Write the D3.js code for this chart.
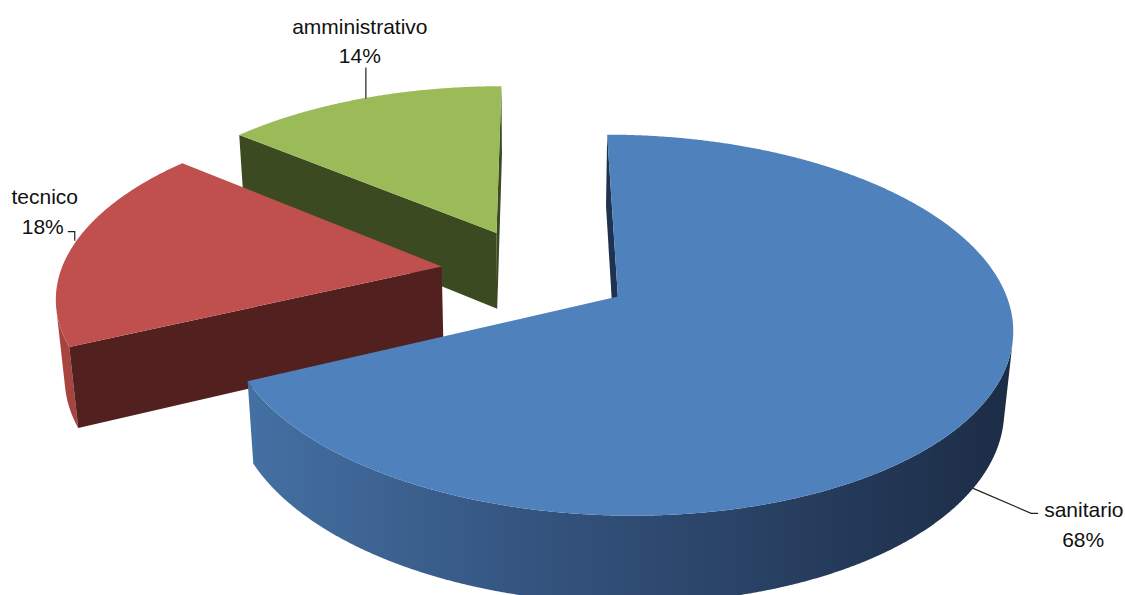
<!DOCTYPE html>
<html><head><meta charset="utf-8">
<script src="https://cdn.jsdelivr.net/npm/d3@7"></script>
<style>
body{margin:0;background:#fff}
svg{display:block}
text{font-family:"Liberation Sans",Arial,sans-serif;font-size:21px;fill:#111}
</style>
</head><body>
<svg id="chart" width="1125" height="595"></svg>
<script>
// ---- data ----
const categories = ["sanitario", "tecnico", "amministrativo"];
const values = [68, 18, 14];
const percentLabels = ["68%", "18%", "14%"];

// ---- styles ----
const topColors  = ["#4F81BD", "#C0504D", "#9BBB59"];
const sideColors = ["#33547f", "#a8443f", "#4a5c29"];
const wallColors = ["#1f3350", "#52211f", "#3c4a21"];

// ---- 3D projection setup ----
const P = {cx: 535.8, cy: 272.1, f: 2287, D: 6, elev: 28 * Math.PI / 180, R: 1, H: 0.235, explode: 0.25};
const sE = Math.sin(P.elev), cE = Math.cos(P.elev);
const cam = [0, -P.D * cE, P.D * sE];
function proj(X, Y, Z) {
  const zc = P.D + Y * cE - Z * sE;
  return [P.cx + P.f * X / zc, P.cy - P.f * (Y * sE + Z * cE) / zc];
}

const svg = d3.select("#chart");
const defs = svg.append("defs");
const line = d3.line();

const pie = d3.pie().sort(null).startAngle(0).endAngle(2 * Math.PI);
const arcs = pie(values).map((d, i) => {
  const mid = (d.startAngle + d.endAngle) / 2;
  return {i, a0: d.startAngle, a1: d.endAngle, mid,
          ox: P.explode * Math.sin(mid), oy: P.explode * Math.cos(mid)};
});

function rim(s, th, z) { return [s.ox + P.R * Math.sin(th), s.oy + P.R * Math.cos(th), z]; }
function visible(n, p) {
  return n[0] * (cam[0] - p[0]) + n[1] * (cam[1] - p[1]) + n[2] * (cam[2] - p[2]) > 0;
}

// blue side gradient
const g = defs.append("linearGradient").attr("id", "sideGrad0").attr("gradientUnits", "objectBoundingBox")
  .attr("x1", 0).attr("x2", 1).attr("y1", 0).attr("y2", 0);
g.append("stop").attr("offset", 0).attr("stop-color", "#4470a3");
g.append("stop").attr("offset", 0.4).attr("stop-color", "#33527c");
g.append("stop").attr("offset", 1).attr("stop-color", "#1c2c45");

const layer = svg.append("g");
// painter order: far slices first
const order = arcs.slice().sort((a, b) => b.oy - a.oy);

order.forEach(s => {
  const gS = layer.append("g").attr("class", "slice-" + categories[s.i]);
  const step = 0.25 * Math.PI / 180;
  const n = Math.ceil((s.a1 - s.a0) / step);
  let run = [];
  const runs = [];
  for (let k = 0; k <= n; k++) {
    const th = s.a0 + (s.a1 - s.a0) * k / n;
    const nrm = [Math.sin(th), Math.cos(th), 0];
    const vis = visible(nrm, rim(s, th, -P.H / 2));
    if (vis) run.push(th); else if (run.length) { runs.push(run); run = []; }
  }
  if (run.length) runs.push(run);
  runs.forEach(r => {
    if (r.length < 2) return;
    const pts = r.map(th => proj(...rim(s, th, 0)))
      .concat(r.slice().reverse().map(th => proj(...rim(s, th, -P.H))));
    gS.append("path").attr("d", line(pts) + "Z")
      .attr("fill", s.i === 0 ? "url(#sideGrad0)" : sideColors[s.i]);
  });
  [[s.a0, -1], [s.a1, 1]].forEach(([a, sg]) => {
    const nrm = [sg * Math.cos(a), -sg * Math.sin(a), 0];
    const mid = rim(s, a, -P.H / 2);
    const c = [(mid[0] + s.ox) / 2, (mid[1] + s.oy) / 2, -P.H / 2];
    if (!visible(nrm, c)) return;
    const pts = [proj(s.ox, s.oy, 0), proj(...rim(s, a, 0)), proj(...rim(s, a, -P.H)), proj(s.ox, s.oy, -P.H)];
    gS.append("path").attr("d", line(pts) + "Z").attr("fill", wallColors[s.i]);
  });
  const m = Math.ceil((s.a1 - s.a0) / step);
  const top = [proj(s.ox, s.oy, 0)];
  for (let k = 0; k <= m; k++) top.push(proj(...rim(s, s.a0 + (s.a1 - s.a0) * k / m, 0)));
  gS.append("path").attr("d", line(top) + "Z").attr("fill", topColors[s.i]);
});

// ---- labels ----
const lab = svg.append("g");
function txt(x, y, t, anchor) {
  lab.append("text").attr("x", x).attr("y", y).attr("text-anchor", anchor).text(t);
}
function leader(pts) {
  lab.append("path").attr("d", line(pts)).attr("fill", "none").attr("stroke", "#222").attr("stroke-width", 1.2);
}
{
  const s = arcs[0];
  const a = proj(...rim(s, s.mid, -P.H));
  leader([a, [a[0] + 58, a[1] + 25], [a[0] + 65, a[1] + 25]]);
  txt(a[0] + 71, a[1] + 29, categories[0], "start");
  txt(a[0] + 110, a[1] + 59, percentLabels[0], "middle");
}
{
  const s = arcs[1];
  const a = proj(...rim(s, s.mid, 0));
  const ax = a[0] + 1, ay = a[1] - 4;
  leader([[ax, ay], [ax, ay - 9], [ax - 7, ay - 9]]);
  txt(ax - 11, ay - 7, percentLabels[1], "end");
  txt(ax - 30, ay - 37, categories[1], "middle");
}
{
  const s = arcs[2];
  const a = proj(...rim(s, s.mid, 0));
  const ax = a[0] + 4;
  leader([[ax, a[1]], [ax, a[1] - 31]]);
  txt(ax - 6, a[1] - 36, percentLabels[2], "middle");
  txt(ax - 6, a[1] - 65, categories[2], "middle");
}
</script>
</body></html>
